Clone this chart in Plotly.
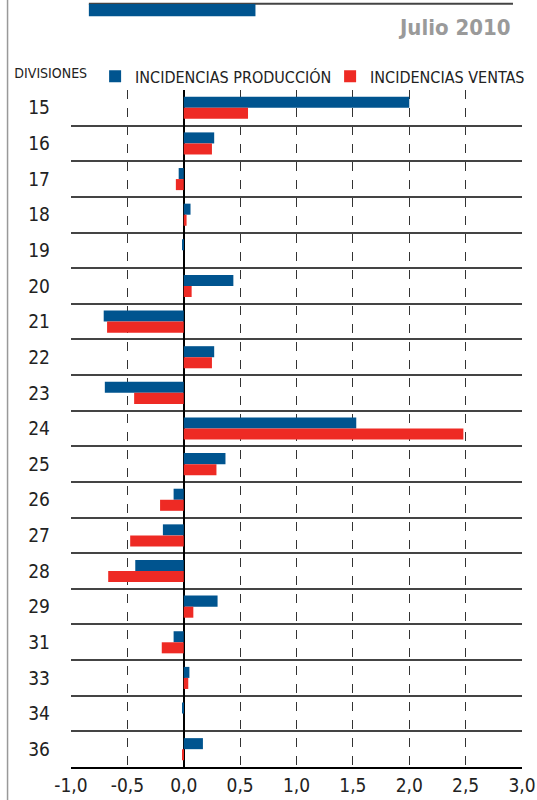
import plotly.graph_objects as go

divisiones = ["15", "16", "17", "18", "19", "20", "21", "22", "23", "24",
              "25", "26", "27", "28", "29", "31", "33", "34", "36"]
produccion = [2.00, 0.27, -0.045, 0.06, -0.01, 0.44, -0.71, 0.27, -0.70, 1.53,
              0.37, -0.09, -0.185, -0.43, 0.30, -0.09, 0.05, -0.01, 0.17]
ventas = [0.57, 0.25, -0.07, 0.025, 0.0, 0.07, -0.68, 0.25, -0.44, 2.48,
          0.29, -0.21, -0.475, -0.67, 0.085, -0.195, 0.04, 0.0, -0.01]
x_ticks = [-1.0, -0.5, 0.0, 0.5, 1.0, 1.5, 2.0, 2.5, 3.0]
x_labels = ["-1,0", "-0,5", "0,0", "0,5", "1,0", "1,5", "2,0", "2,5", "3,0"]

BLUE = "#00548f"
RED = "#ee2a24"
FONT = "Liberation Sans Narrow, DejaVu Sans Condensed, Roboto Condensed, Arial Narrow, sans-serif"

fig = go.Figure()
fig.add_trace(go.Bar(y=divisiones, x=produccion, orientation="h",
                     name="INCIDENCIAS PRODUCCIÓN", marker_color=BLUE,
                     marker_line_width=0, legendwidth=190))
fig.add_trace(go.Bar(y=divisiones, x=ventas, orientation="h",
                     name="INCIDENCIAS VENTAS", marker_color=RED,
                     marker_line_width=0, legendwidth=160))

fig.update_layout(
    width=537, height=800,
    margin=dict(l=67, r=15, t=90, b=33),
    paper_bgcolor="white", plot_bgcolor="white",
    barmode="group", bargap=0.38, bargroupgap=0,
    font=dict(family=FONT, color="#222"),
    showlegend=True,
    legend=dict(orientation="h", x=-0.13, y=1.02, xanchor="left", yanchor="middle",
                title=dict(text="DIVISIONES", side="left",
                           font=dict(size=14, family=FONT, color="#222")),
                font=dict(size=16, family=FONT, color="#222", weight="normal"),
                itemwidth=30, bgcolor="rgba(0,0,0,0)", borderwidth=0),
    xaxis=dict(range=[-1.0, 3.0], tickmode="array", tickvals=x_ticks, ticktext=x_labels,
               showgrid=True, gridcolor="#333", griddash="dash", gridwidth=1,
               zeroline=True, zerolinecolor="#000", zerolinewidth=2,
               showline=True, linecolor="#000", linewidth=1.5, mirror=False,
               automargin=False,
               ticks="", tickfont=dict(size=19, family=FONT, color="#222", weight="normal")),
    yaxis=dict(autorange="reversed", type="category", tickson="boundaries",
               showgrid=True, gridcolor="#444", gridwidth=1.5,
               automargin=False,
               ticks="", ticklabelstandoff=20,
               tickfont=dict(size=19, family=FONT, color="#222", weight="normal")),
)

# decorative header lines and page border
fig.add_shape(type="line", xref="paper", yref="paper", x0=0.0396, x1=0.980,
              y0=1.1275, y1=1.1275, line=dict(color="#444", width=2))
fig.add_shape(type="rect", xref="paper", yref="paper", x0=0.0396, x1=0.409,
              y0=1.109, y1=1.127, fillcolor=BLUE, line_width=0)
fig.add_shape(type="line", xref="paper", yref="paper", x0=-0.1407, x1=-0.1407,
              y0=-0.05, y1=1.14, line=dict(color="#999", width=1.5))

fig.add_annotation(text="<b>Julio 2010</b>", xref="paper", yref="paper",
                   x=0.98, y=1.092, xanchor="right", yanchor="middle",
                   showarrow=False, font=dict(size=22, family=FONT, color="#9a9a9a"))

fig.write_html("out.html", config={"displayModeBar": False},
               post_script="document.body.style.margin='0px';")
